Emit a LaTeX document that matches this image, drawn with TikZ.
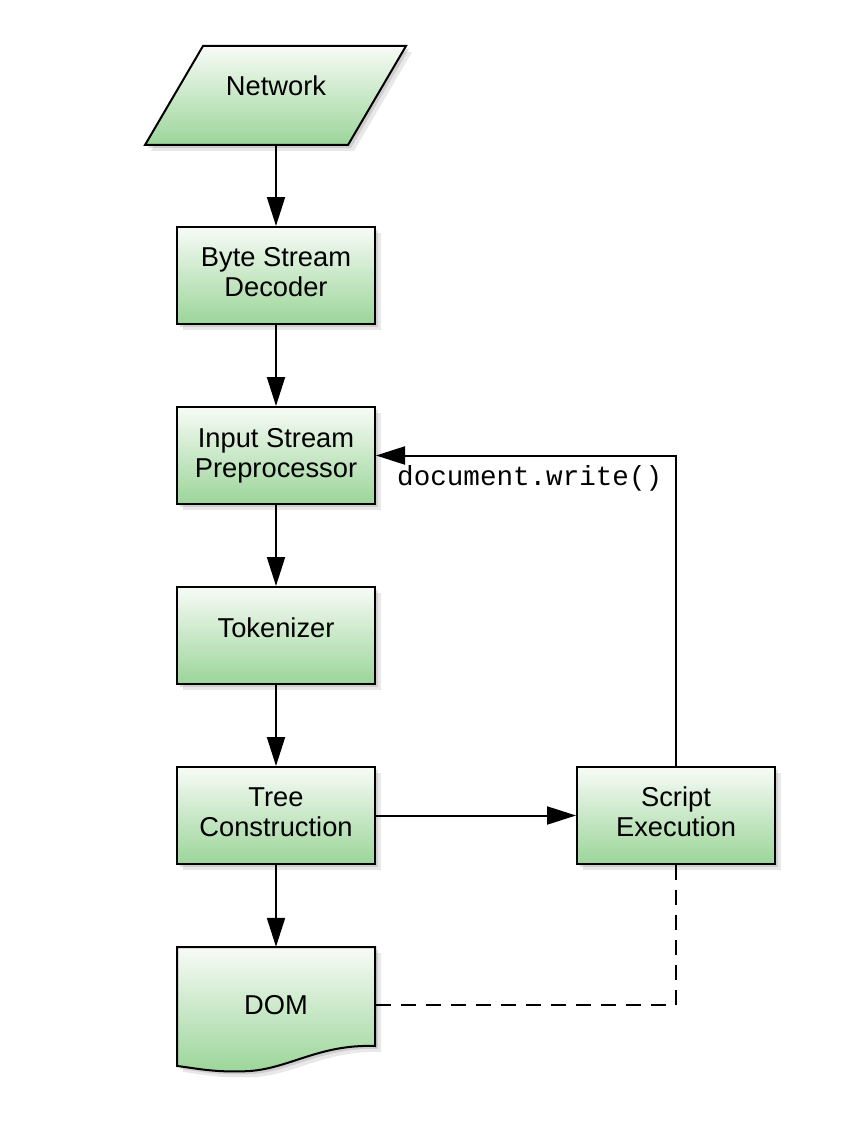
\documentclass[tikz,border=0pt]{standalone}
\usepackage{fontspec}
\setmainfont{Liberation Sans}
\newfontfamily\monofont{Liberation Mono}
\usetikzlibrary{arrows.meta,shadows}
\definecolor{topgreen}{HTML}{F7FBF6}
\definecolor{botgreen}{HTML}{9BD599}
\begin{document}
\begin{tikzpicture}[x=1pt,y=-1pt,
  greenfill/.style={top color=topgreen, bottom color=botgreen,
    drop shadow={opacity=0.18, shadow xshift=6pt, shadow yshift=-6pt},
    drop shadow={opacity=0.25, shadow xshift=3pt, shadow yshift=-3pt}},
  stepbox/.style={greenfill, draw=black, line width=2pt, minimum width=198pt,
    minimum height=97pt, align=center, inner sep=0pt,
    font=\fontsize{27.3}{30}\selectfont},
  plain/.style={align=center, inner sep=0pt, font=\fontsize{27.3}{30}\selectfont},
  flow/.style={line width=2pt, -{Triangle[length=29pt,width=18pt]}},
  dashline/.style={line width=2pt, dash pattern=on 15pt off 10pt}]
\useasboundingbox (0,0) rectangle (866,1126);
% Network parallelogram
\path[greenfill, draw=black, line width=2pt, line join=miter]
  (145,145) -- (348,145) -- (406,46) -- (203,46) -- cycle;
\node[plain, minimum width=203pt, minimum height=99pt, text depth=19pt] (net) at (276,95.5) {Network};
% boxes
\node[stepbox, text depth=7pt] (bsd) at (276,275.5) {Byte Stream\\Decoder};
\node[stepbox] (isp) at (276,455.5) {Input Stream\\Preprocessor};
\node[stepbox, text depth=16pt] (tok) at (276,635.5) {Tokenizer};
\node[stepbox, text depth=7pt] (tc)  at (276,815.5) {Tree\\Construction};
\node[stepbox, text depth=7pt] (se)  at (676,815.5) {Script\\Execution};
% DOM document shape
\path[greenfill, draw=black, line width=2pt]
  (177,947) -- (375,947) -- (375,1046)
  .. controls (320,1044) and (290,1068) .. (250,1071)
  .. controls (215,1073) and (195,1068) .. (177,1066) -- cycle;
\node[plain, minimum width=198pt, minimum height=116pt] (dom) at (276,1005) {DOM};
% connectors
\draw[flow] (net.south) -- (bsd.north);
\draw[flow] (bsd.south) -- (isp.north);
\draw[flow] (isp.south) -- (tok.north);
\draw[flow] (tok.south) -- (tc.north);
\draw[flow] (tc.south) -- (dom.north);
\draw[flow] (tc.east) -- (se.west);
\draw[flow] (se.north) |- (isp.east);
\draw[dashline] (se.south) |- (dom.east);
\node[anchor=west, inner sep=0pt, font=\monofont\fontsize{27.6}{30}\selectfont] (lbl) at (397,478) {document.write()};
\end{tikzpicture}
\end{document}
